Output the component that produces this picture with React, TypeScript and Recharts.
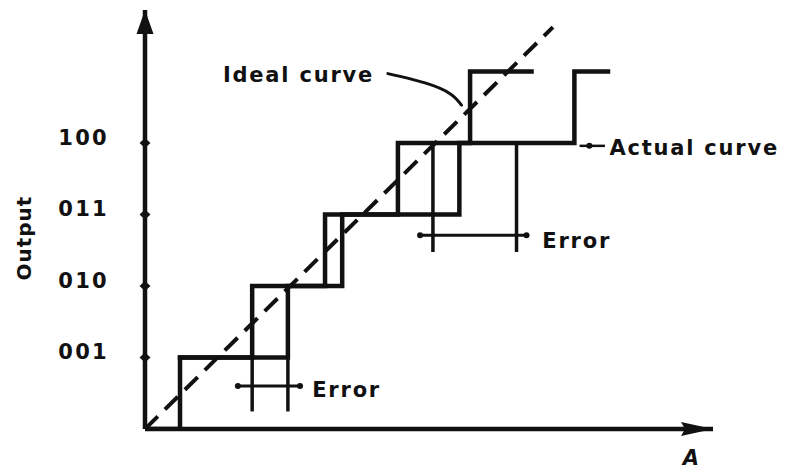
import React from 'react';
import { ComposedChart, Line, XAxis, YAxis, ReferenceDot } from 'recharts';

// Output code levels (y) and their labels
const levelTicks = [1, 2, 3, 4];
const levelLabels = ['001', '010', '011', '100'];

// Ideal (dashed) transfer curve
const idealX = [0, 5.71];
const idealY = [0, 5.62];

// Actual curve: staircase with early transitions
const actualLeftX = [0, 0.49, 0.49, 1.5, 1.5, 2.52, 2.52, 3.54, 3.54, 4.55, 4.55, 5.41];
const actualLeftY = [0, 0, 1, 1, 2, 2, 3, 3, 4, 4, 5, 5];
// Actual curve: staircase with late transitions
const actualRightX = [0.49, 2.0, 2.0, 2.76, 2.76, 4.4, 4.4, 6.01, 6.01, 6.48];
const actualRightY = [1, 1, 2, 2, 3, 3, 4, 4, 5, 5];

// Error markers
const lowerErrBarX = [1.3, 2.17];
const lowerErrBarY = 0.6;
const lowerErrTickX = [1.5, 2.0];
const lowerErrTickY = [0.27, 1];
const upperErrBarX = [3.85, 5.34];
const upperErrBarY = 2.71;
const upperErrTickX = [4.03, 5.2];
const upperErrTickY = [2.5, 4];

// Pointer lines
const idealPointerX = [3.4, 3.92, 4.27, 4.43];
const idealPointerY = [4.97, 4.84, 4.69, 4.53];
const actualPointerX = [6.1, 6.42];
const actualPointerY = 3.96;

// Annotations
const annotations: { x: number; y: number; text: string; italic?: boolean; rotate?: boolean; anchor?: string }[] = [
  { x: 1.09, y: 4.85, text: 'Ideal curve' },
  { x: 6.5, y: 3.83, text: 'Actual curve' },
  { x: 2.34, y: 0.45, text: 'Error' },
  { x: 5.56, y: 2.53, text: 'Error' },
  { x: 7.64, y: -0.5, text: 'A', italic: true, anchor: 'middle' },
  { x: -1.6, y: 2.67, text: 'Output', rotate: true, anchor: 'middle' },
];

const X_MAX = 7.95;
const Y_MAX = 5.86;
const INK = '#111';
const FONT = 'DejaVu Sans, sans-serif';

const zip = (xs: number[], ys: number[]) => xs.map((x, i) => ({ x, y: ys[i] }));
const hLine = (xs: number[], y: number) => xs.map((x) => ({ x, y }));
const vLine = (x: number, ys: number[]) => ys.map((y) => ({ x, y }));

const YTick = (p: any) => {
  const idx = levelTicks.indexOf(p.payload.value);
  const { x, y } = p;
  return (
    <g>
      <path d={`M${x - 5.5},${y} L${x},${y - 5} L${x + 5.5},${y} L${x},${y + 5} Z`} fill={INK} />
      <text
        x={x - 36}
        y={y + 2}
        textAnchor="end"
        fontFamily={FONT}
        fontWeight="bold"
        fontSize={21}
        letterSpacing={2.3}
        fill={INK}
      >
        {levelLabels[idx]}
      </text>
    </g>
  );
};

const makeText = (a: (typeof annotations)[number]) => (props: any) => {
  const { cx, cy } = props;
  return (
    <text
      x={cx}
      y={cy}
      textAnchor={(a.anchor as any) || 'start'}
      fontFamily={FONT}
      fontWeight="bold"
      fontStyle={a.italic ? 'italic' : 'normal'}
      fontSize={a.italic ? 21 : a.rotate ? 20 : 21}
      letterSpacing={a.italic ? 0 : a.rotate ? 1 : 1.8}
      fill={INK}
      transform={a.rotate ? `rotate(-90 ${cx} ${cy})` : undefined}
    >
      {a.text}
    </text>
  );
};

const UpArrow = (props: any) => {
  const { cx, cy } = props;
  return <path d={`M${cx},${cy} L${cx + 8.5},${cy + 24} L${cx - 8.5},${cy + 24} Z`} fill={INK} />;
};
const RightArrow = (props: any) => {
  const { cx, cy } = props;
  return <path d={`M${cx},${cy} L${cx - 32},${cy - 7} L${cx - 28},${cy} L${cx - 32},${cy + 7} Z`} fill={INK} />;
};
const SmallDot = (props: any) => {
  const { cx, cy } = props;
  return <circle cx={cx} cy={cy} r={3} fill={INK} />;
};

const lineProps = {
  type: 'linear' as const,
  dataKey: 'y',
  stroke: INK,
  dot: false,
  isAnimationActive: false,
  strokeLinecap: 'square' as const,
};

export default function App() {
  return (
    <div style={{ position: 'absolute', left: 0, top: 0, width: 785, height: 470, background: '#fff' }}>
      <ComposedChart width={785} height={470} margin={{ top: 10, right: 72, bottom: 0, left: 0 }}>
        <XAxis
          type="number"
          dataKey="x"
          domain={[0, X_MAX]}
          allowDataOverflow
          height={41}
          tick={false}
          tickLine={false}
          axisLine={{ stroke: INK, strokeWidth: 4.5 }}
        />
        <YAxis
          type="number"
          dataKey="y"
          domain={[0, Y_MAX]}
          allowDataOverflow
          width={145}
          ticks={levelTicks}
          tickSize={0}
          tickMargin={0}
          tickLine={false}
          tick={<YTick />}
          axisLine={{ stroke: INK, strokeWidth: 4.5 }}
        />
        <Line {...lineProps} data={zip(idealX, idealY)} strokeWidth={4} strokeDasharray="18 10" strokeLinecap="butt" />
        <Line {...lineProps} data={zip(actualLeftX, actualLeftY)} strokeWidth={4.5} />
        <Line {...lineProps} data={zip(actualRightX, actualRightY)} strokeWidth={4.5} />
        <Line {...lineProps} data={hLine(lowerErrBarX, lowerErrBarY)} strokeWidth={3} dot={<SmallDot />} />
        <Line {...lineProps} data={vLine(lowerErrTickX[0], lowerErrTickY)} strokeWidth={3.5} />
        <Line {...lineProps} data={vLine(lowerErrTickX[1], lowerErrTickY)} strokeWidth={3.5} />
        <Line {...lineProps} data={hLine(upperErrBarX, upperErrBarY)} strokeWidth={3} dot={<SmallDot />} />
        <Line {...lineProps} data={vLine(upperErrTickX[0], upperErrTickY)} strokeWidth={3.5} />
        <Line {...lineProps} data={vLine(upperErrTickX[1], upperErrTickY)} strokeWidth={3.5} />
        <Line {...lineProps} type="natural" data={zip(idealPointerX, idealPointerY)} strokeWidth={3} strokeLinecap="round" />
        <Line {...lineProps} data={hLine(actualPointerX, actualPointerY)} strokeWidth={2.5} />
        <ReferenceDot x={actualPointerX[0] + 0.12} y={actualPointerY} shape={<SmallDot />} ifOverflow="visible" />
        <ReferenceDot x={0} y={Y_MAX} shape={<UpArrow />} ifOverflow="visible" />
        <ReferenceDot x={X_MAX} y={0} shape={<RightArrow />} ifOverflow="visible" />
        {annotations.map((a, i) => (
          <ReferenceDot key={i} x={a.x} y={a.y} shape={makeText(a)} ifOverflow="visible" />
        ))}
      </ComposedChart>
    </div>
  );
}
